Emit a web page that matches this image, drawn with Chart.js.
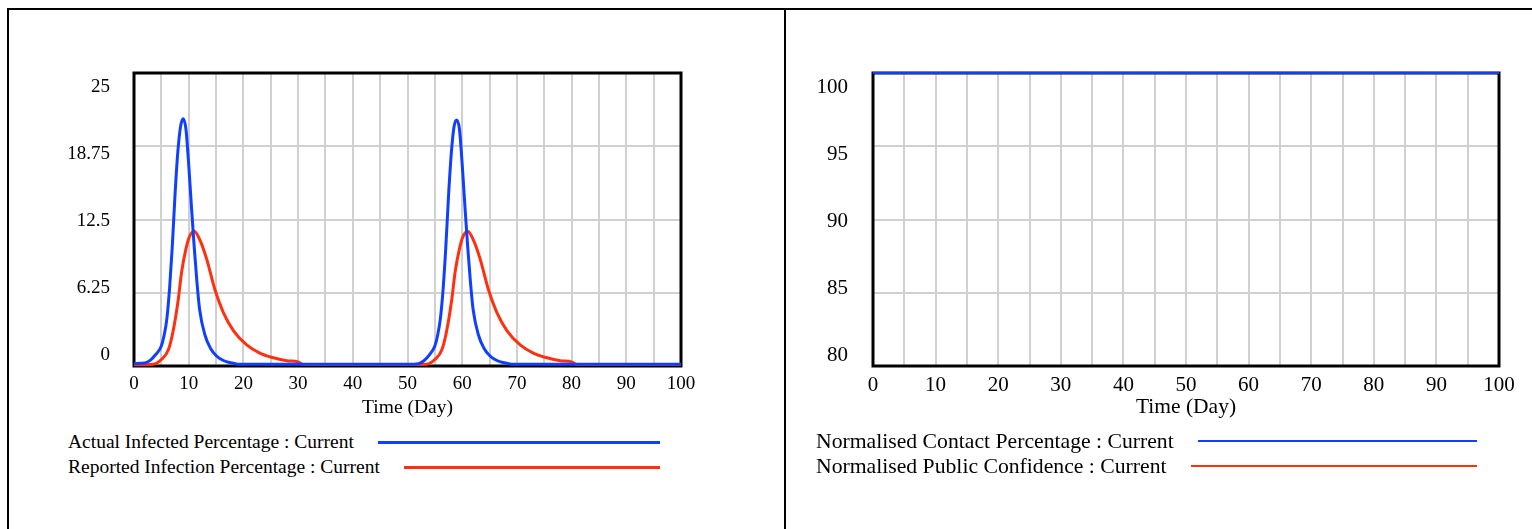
<!DOCTYPE html>
<html>
<head>
<meta charset="utf-8">
<script src="https://cdn.jsdelivr.net/npm/chart.js@4/dist/chart.umd.min.js"></script>
<style>
  html, body { margin: 0; padding: 0; background: #fff; width: 1532px; height: 529px; overflow: hidden; }
  body { position: relative; font-family: 'Liberation Serif', 'Times New Roman', serif; }
  .frame { position: absolute; left: 7px; top: 8px; width: 1600px; height: 600px; border-top: 2px solid #000; border-left: 2px solid #000; }
  .divider { position: absolute; left: 784px; top: 8px; width: 2px; height: 600px; background: #000; }
  .cv { position: absolute; top: 0; }
  .leg { position: absolute; display: flex; align-items: center; font-size: 19.5px; line-height: 20px; color: #000; white-space: nowrap; }
  .leg.big { font-size: 21.7px; }
  .leg .ln { flex: 1; margin-left: 24px; height: 0; }
</style>
</head>
<body>
<div class="frame"></div>
<div class="divider"></div>

<canvas id="leftChart" class="cv" style="left:0px" width="720" height="430"></canvas>
<canvas id="rightChart" class="cv" style="left:740px" width="792" height="430"></canvas>

<div class="leg" style="left:68px; top:432px; width:592px;">
  <span>Actual Infected Percentage : Current</span><span class="ln" style="border-top:3px solid #1040ff"></span>
</div>
<div class="leg" style="left:68px; top:457px; width:592px;">
  <span>Reported Infection Percentage : Current</span><span class="ln" style="border-top:3px solid #ff3010"></span>
</div>
<div class="leg big" style="left:816px; top:431px; width:661px;">
  <span>Normalised Contact Percentage : Current</span><span class="ln" style="border-top:2px solid #1040ff"></span>
</div>
<div class="leg big" style="left:816px; top:456px; width:661px;">
  <span>Normalised Public Confidence : Current</span><span class="ln" style="border-top:2px solid #ff3010"></span>
</div>

<script>
// ---------- Data ----------
const ACTUAL_T = [0, 2, 3, 4, 5, 5.5, 6, 6.5, 7, 7.5, 8, 8.5, 9, 9.5, 10, 10.5, 11, 11.5, 12, 13, 14, 15, 16, 17, 18, 19, 20,
    50, 52, 53, 54, 55, 55.5, 56, 56.5, 57, 57.5, 58, 58.5, 59, 59.5, 60, 60.5, 61, 61.5, 62, 63, 64, 65, 66, 67, 68, 69, 70, 100];
const ACTUAL_V = [0.2, 0.25, 0.5, 1.0, 1.7, 2.6, 4.0, 6.6, 10.2, 14.6, 18.2, 20.4, 21.1, 20.2, 17.2, 13.6, 10.2, 7.2, 4.8, 2.6, 1.5, 0.9, 0.55, 0.35, 0.25, 0.15, 0.15,
    0.15, 0.2, 0.45, 0.95, 1.7, 2.6, 4.0, 6.5, 10.1, 14.5, 18.1, 20.4, 21.0, 20.2, 17.2, 13.6, 10.2, 7.2, 4.8, 2.6, 1.5, 0.9, 0.55, 0.35, 0.25, 0.15, 0.15, 0.15];

const REPORTED_T = [0, 3.5, 5, 6.3, 7.2, 8.1, 8.7, 9.5, 10.2, 11, 12.1, 13.3, 14.8, 16.3, 18.2, 20.6, 23, 25.5, 27.9, 30, 31,
    50, 53.5, 55, 56.3, 57.2, 58.1, 58.7, 59.5, 60.2, 61, 62.1, 63.3, 64.8, 66.3, 68.2, 70.6, 73, 75.5, 77.9, 80, 81, 100];
const REPORTED_V = [0.1, 0.15, 0.55, 1.4, 3.1, 5.7, 8.0, 10.0, 11.1, 11.5, 10.7, 9.1, 6.5, 4.6, 3.0, 1.8, 1.1, 0.7, 0.45, 0.35, 0.12,
    0.12, 0.15, 0.55, 1.4, 3.1, 5.7, 8.0, 10.0, 11.1, 11.5, 10.7, 9.1, 6.5, 4.6, 3.0, 1.8, 1.1, 0.7, 0.45, 0.35, 0.12, 0.12];

const CONTACT_T = [0, 100];
const CONTACT_V = [100, 100];
const CONFIDENCE_T = [0, 100];
const CONFIDENCE_V = [100, 100];

const X_GRID = [0, 5, 10, 15, 20, 25, 30, 35, 40, 45, 50, 55, 60, 65, 70, 75, 80, 85, 90, 95, 100];
const X_LABELS = [0, 10, 20, 30, 40, 50, 60, 70, 80, 90, 100];
const Y_TICKS_LEFT = [0, 6.25, 12.5, 18.75, 25];
const Y_TICKS_RIGHT = [80, 85, 90, 95, 100];

const BLUE = '#1040ff';
const RED = '#ff3010';
const FONT = "'Liberation Serif', 'Times New Roman', serif";

function pts(ts, vs) { return ts.map((t, i) => ({ x: t, y: vs[i] })); }

// black frame around plot area + vensim-style y labels
const framePlugin = {
    id: 'frame',
    beforeDatasetsDraw(chart) {
        const a = chart.chartArea, ctx = chart.ctx;
        ctx.save();
        ctx.strokeStyle = '#000';
        ctx.lineWidth = 3;
        ctx.strokeRect(a.left, a.top, a.right - a.left, a.bottom - a.top);
        ctx.restore();
    },
    afterDraw(chart) {
        const a = chart.chartArea, ctx = chart.ctx, y = chart.scales.y;
        const h = a.bottom - a.top;
        const o = chart.options.plugins.frame;
        ctx.save();
        ctx.font = o.size + 'px ' + FONT;
        ctx.fillStyle = '#000';
        ctx.textAlign = 'right';
        ctx.textBaseline = 'middle';
        o.labels.forEach(v => {
            const p = y.getPixelForValue(v);
            const ly = a.top + 14 + (p - a.top) * (h - 25) / h;
            ctx.fillText(String(v), a.left - o.gap, ly);
        });
        ctx.restore();
    }
};

function makeChart(id, datasets, yMin, yMax, yTicks, yWidth, padRight, lineW, fs, gap) {
    return new Chart(document.getElementById(id), {
        type: 'line',
        data: { datasets },
        plugins: [framePlugin],
        options: {
            responsive: false,
            animation: false,
            events: [],
            layout: { padding: { left: 0, top: 73, right: padRight, bottom: 10 } },
            elements: { point: { radius: 0 }, line: { borderWidth: lineW, cubicInterpolationMode: 'monotone' } },
            plugins: { legend: { display: false }, tooltip: { enabled: false }, frame: { labels: yTicks, size: fs, gap } },
            scales: {
                x: {
                    type: 'linear', min: 0, max: 100,
                    afterBuildTicks: s => { s.ticks = X_GRID.map(v => ({ value: v })); },
                    afterFit: s => { s.height = 54; },
                    grid: { color: '#d0d0d0', lineWidth: 2, drawTicks: false },
                    border: { display: false },
                    ticks: {
                        padding: 7, color: '#000', font: { family: FONT, size: fs }, maxRotation: 0, autoSkip: false,
                        callback: v => X_LABELS.includes(v) ? String(v) : ''
                    },
                    title: { display: true, text: 'Time (Day)', color: '#000', font: { family: FONT, size: fs + 0.5 }, padding: { top: 0, bottom: 0 } }
                },
                y: {
                    type: 'linear', min: yMin, max: yMax,
                    afterBuildTicks: s => { s.ticks = yTicks.map(v => ({ value: v })); },
                    afterFit: s => { s.width = yWidth; },
                    grid: { color: '#d0d0d0', lineWidth: 2, drawTicks: false },
                    border: { display: false },
                    ticks: { display: false }
                }
            }
        }
    });
}

makeChart('leftChart', [
    { data: pts(ACTUAL_T, ACTUAL_V), borderColor: BLUE, clip: 4 },
    { data: pts(REPORTED_T, REPORTED_V), borderColor: RED, clip: 4 }
], 0, 25, Y_TICKS_LEFT, 134, 39, 3, 19, 24);

makeChart('rightChart', [
    { data: pts(CONTACT_T, CONTACT_V), borderColor: BLUE, clip: 4 },
    { data: pts(CONFIDENCE_T, CONFIDENCE_V), borderColor: RED, clip: 4 }
], 80, 100, Y_TICKS_RIGHT, 133, 33, 2, 21, 25);
</script>
</body>
</html>
